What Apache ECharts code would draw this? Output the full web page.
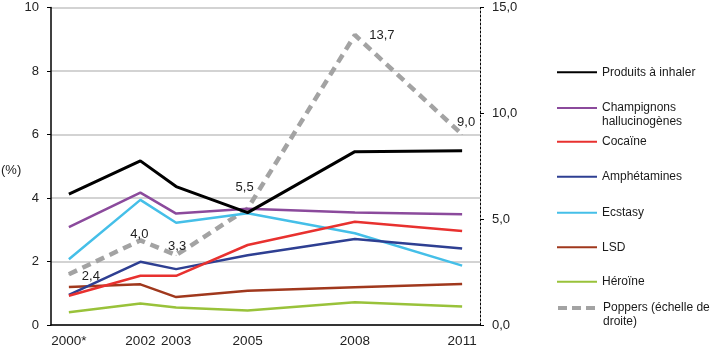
<!DOCTYPE html>
<html>
<head>
<meta charset="utf-8">
<script src="https://cdn.jsdelivr.net/npm/echarts@6/dist/echarts.min.js"></script>
<style>
html,body{margin:0;padding:0;background:#fff;}
#chart{width:710px;height:351px;}
</style>
</head>
<body>
<div id="chart"></div>
<script>
// Categories (one per year, only survey years labelled)
var categories = ['2000*','2001','2002','2003','2004','2005','2006','2007','2008','2009','2010','2011'];
var surveyYears = ['2000*','2002','2003','2005','2008','2011'];

// Series values (%), left scale
var inhalants    = [4.12, 5.17, 4.36, 3.54, 5.46, 5.49];
var mushrooms    = [3.08, 4.17, 3.51, 3.66, 3.54, 3.49];
var cocaine      = [0.92, 1.55, 1.55, 2.52, 3.25, 2.96];
var amphetamines = [0.95, 1.99, 1.76, 2.2, 2.71, 2.41];
var ecstasy      = [2.07, 3.94, 3.22, 3.52, 2.89, 1.87];
var lsd          = [1.2, 1.28, 0.88, 1.08, 1.19, 1.29];
var heroin       = [0.4, 0.68, 0.55, 0.46, 0.72, 0.58];
// Poppers (right scale)
var poppers      = [2.4, 4.0, 3.3, 5.5, 13.7, 9.0];

// Axis ticks
var leftTicks = {min: 0, max: 10, interval: 2};
var rightTicks = {min: 0, max: 15, interval: 5};

var names = ['Produits à inhaler','Champignons hallucinogènes','Cocaïne','Amphétamines','Ecstasy','LSD','Héroïne','Poppers (échelle de droite)'];
var legendLabels = {
  'Champignons hallucinogènes': '\nChampignons\nhallucinogènes',
  'Poppers (échelle de droite)': '\nPoppers (échelle de\ndroite)'
};
var colors = ['#000000','#8b4a9c','#e8312f','#2e3f92','#45bfe8','#a0381d','#99c23a','#a3a3a3'];
var widths = [3, 2.5, 2.5, 2.5, 2.5, 2.5, 2.5, 4.5];
var legendCenters = [72.3, 108, 141.7, 176.7, 212.7, 247.3, 281.7, 308];
var poppersLabelOffsets = [[22,2],[-1,-6],[1,-9],[-3,-21],[27,0],[4,-12]];

function pairs(vals){ return surveyYears.map(function(y,i){ return [y, vals[i]]; }); }
function fmt(v){ return v.toFixed(1).replace('.', ','); }

var FONT = 'Liberation Sans, Arial, sans-serif';
var valuesList = [inhalants, mushrooms, cocaine, amphetamines, ecstasy, lsd, heroin];

var series = valuesList.map(function(vals, i){
  return {
    name: names[i], type: 'line', data: pairs(vals), connectNulls: true,
    symbol: 'none', z: 3 + (7 - i),
    lineStyle: {color: colors[i], width: widths[i]},
    itemStyle: {color: colors[i]}
  };
});
series.push({
  name: names[7], type: 'line', yAxisIndex: 1, connectNulls: true, z: 2,
  data: pairs(poppers).map(function(p, i){
    return {value: p, label: {offset: poppersLabelOffsets[i]}};
  }),
  symbol: 'circle', symbolSize: 1,
  lineStyle: {color: colors[7], width: widths[7], type: [9, 6]},
  itemStyle: {color: colors[7]},
  label: {show: true, position: 'inside', color: '#222', fontSize: 13, fontFamily: FONT,
          formatter: function(p){ return fmt(p.value[1]); }}
});

var legends = names.map(function(n, i){
  var multi = !!legendLabels[n];
  var h = multi ? 40.5 : 14;
  var item = {name: n, itemStyle: {color: 'transparent', borderWidth: 0, opacity: 0}};
  if (i === 7) item.lineStyle = {width: 4, type: [9, 5], color: colors[7]};
  return {
    orient: 'vertical', left: 556, top: legendCenters[i] - h/2,
    itemWidth: 40, itemHeight: 14, padding: 0,
    data: [item],
    formatter: function(name){ return legendLabels[name] || name; },
    textStyle: {color: '#1a1a1a', fontSize: 12, fontFamily: FONT, lineHeight: multi ? 13.5 : 14},
    selectedMode: false
  };
});

var chart = echarts.init(document.getElementById('chart'), null, {renderer: 'canvas'});
chart.setOption({
  animation: false,
  backgroundColor: '#fff',
  textStyle: {fontFamily: FONT},
  grid: {left: 51, right: 230, top: 7.5, bottom: 26, containLabel: false},
  legend: legends,
  graphic: [{type: 'text', left: 1, top: 164, style: {text: '(%)', fontSize: 13, fontFamily: FONT, fill: '#222'}}],
  xAxis: {
    type: 'category', data: categories, boundaryGap: true,
    axisLine: {lineStyle: {color: '#000', width: 1.5}},
    axisTick: {interval: 0, length: 5, lineStyle: {color: '#000', width: 1}},
    axisLabel: {
      interval: function(idx, val){ return surveyYears.indexOf(val) >= 0; },
      color: '#222', fontSize: 13.5, margin: 9, fontFamily: FONT
    },
    splitLine: {show: false}
  },
  yAxis: [{
    type: 'value', min: leftTicks.min, max: leftTicks.max, interval: leftTicks.interval,
    axisLine: {show: true, lineStyle: {color: '#000', width: 1.5}},
    axisTick: {show: true, length: 4, lineStyle: {color: '#000'}},
    axisLabel: {color: '#222', fontSize: 13, margin: 12, fontFamily: FONT},
    splitLine: {show: true, lineStyle: {color: '#c4c4c4', width: 1.5}}
  }, {
    type: 'value', position: 'right', min: rightTicks.min, max: rightTicks.max, interval: rightTicks.interval,
    axisLine: {show: true, lineStyle: {color: '#000', width: 1, type: [2, 2]}},
    axisTick: {show: true, length: 4, lineStyle: {color: '#000'}},
    axisLabel: {color: '#222', fontSize: 13, margin: 12, fontFamily: FONT, formatter: fmt},
    splitLine: {show: false}
  }],
  series: series
});
</script>
</body>
</html>
